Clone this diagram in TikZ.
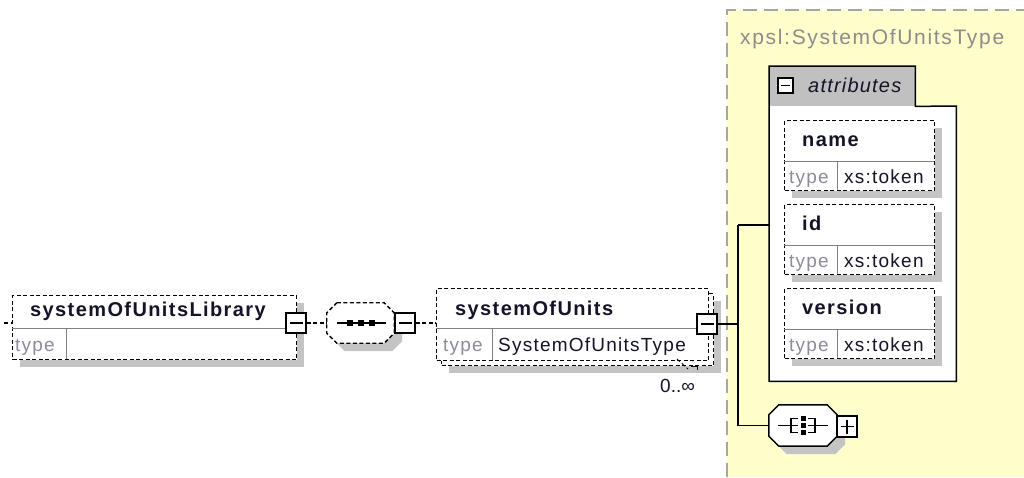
\documentclass[tikz,border=0pt]{standalone}
\usepackage{fontspec}
\setmainfont{Liberation Sans}
\newfontfamily\fname[LetterSpace=7]{Liberation Sans}
\newfontfamily\ftype[LetterSpace=6.5]{Liberation Sans}
\newfontfamily\ftitle[LetterSpace=8]{Liberation Sans}
\newfontfamily\fattr[LetterSpace=6]{Liberation Sans}
\definecolor{yel}{RGB}{255,255,204}
\definecolor{shad}{RGB}{196,196,196}
\definecolor{tabgray}{RGB}{192,192,192}
\definecolor{titlegray}{RGB}{140,140,140}
\definecolor{typegray}{RGB}{140,140,155}
\definecolor{divgray}{RGB}{128,128,128}
\definecolor{ink}{RGB}{20,20,40}
\begin{document}
\begin{tikzpicture}[x=1pt,y=-1pt,
  dsh/.style={dash pattern=on 4pt off 2.5pt},
  ebox/.style={draw, dsh, fill=white, line width=1.3pt, inner sep=0, anchor=north west},
  shadowbox/.style={fill=shad, draw=none, inner sep=0, anchor=north west},
  divider/.style={draw=divgray, line width=1pt},
  mbox/.style={draw, fill=white, line width=1.5pt, minimum size=20pt, inner sep=0,
    path picture={\draw[line width=1.3pt] ([xshift=3.5pt]path picture bounding box.west) -- ([xshift=-3.5pt]path picture bounding box.east);}},
  pbox/.style={draw, fill=white, line width=1.5pt, minimum size=20pt, inner sep=0,
    path picture={\draw[line width=1.3pt] ([xshift=3.5pt]path picture bounding box.west) -- ([xshift=-3.5pt]path picture bounding box.east);
      \draw[line width=1.3pt] ([yshift=-3.5pt]path picture bounding box.north) -- ([yshift=3.5pt]path picture bounding box.south);}},
  nametxt/.style={inner sep=0, anchor=base west, font=\fname\bfseries\fontsize{20}{24}\selectfont, text=ink},
  typetxt/.style={inner sep=0, anchor=base west, font=\ftype\fontsize{19}{23}\selectfont, text=typegray},
  valtxt/.style={inner sep=0, anchor=base west, font=\ftype\fontsize{19}{23}\selectfont, text=ink},
  conn/.style={draw, line width=1.2pt},
  dconn/.style={draw, line width=1.2pt, dsh}
]
\useasboundingbox (0,0) rectangle (1024,477);
\fill[white] (0,0) rectangle (1024,477);

% ---------- yellow type area ----------
\fill[yel] (727,10) rectangle (1024,477);
\draw[draw=gray!70, line width=1.6pt, dash pattern=on 14pt off 7pt] (727,477) -- (727,10) -- (1024,10);
\node[inner sep=0, anchor=base west, font=\ftitle\fontsize{21}{25}\selectfont, text=titlegray] (title) at (740,44) {xpsl:SystemOfUnitsType};

% ---------- systemOfUnitsLibrary ----------
\node[shadowbox, minimum width=284, minimum height=64] (libsh) at (20,303) {};
\node[ebox, minimum width=284, minimum height=64] (lib) at (12,295) {};
\draw[divider] (12,328) -- (296,328);
\draw[divider] (66,328) -- (66,359);
\node[nametxt] (libname) at (30,316) {systemOfUnitsLibrary};
\node[typetxt] (libtype) at (15,351) {type};
\coordinate (lstub) at (4,323);
\draw[dconn] (lstub) -- (12,323);
\node[mbox] (m1) at (296,323) {};

% ---------- sequence ----------
\node[inner sep=0, minimum width=67, minimum height=40] (seq) at (360.5,323) {};
\fill[shad] ([shift={(18,8)}]seq.north west) -- ([shift={(-2,8)}]seq.north east) -- ([shift={(8,18)}]seq.north east)
  -- ([shift={(8,-2)}]seq.south east) -- ([shift={(-2,8)}]seq.south east) -- ([shift={(18,8)}]seq.south west)
  -- ([shift={(8,-2)}]seq.south west) -- ([shift={(8,18)}]seq.north west) -- cycle;
\filldraw[fill=white, line width=1.3pt, dsh] ([shift={(10,0)}]seq.north west) -- ([shift={(-10,0)}]seq.north east) -- ([shift={(0,10)}]seq.north east)
  -- ([shift={(0,-10)}]seq.south east) -- ([shift={(-10,0)}]seq.south east) -- ([shift={(10,0)}]seq.south west)
  -- ([shift={(0,-10)}]seq.south west) -- ([shift={(0,10)}]seq.north west) -- cycle;
\draw[line width=1.3pt] ([xshift=10]seq.west) -- ([xshift=-8]seq.east);
\foreach \dx in {-11,0,11} \fill ([xshift=\dx]seq.center) ++(-3,-3) rectangle ++(6,6);
\node[mbox] (m2) at (405,323) {};

\draw[dconn] (m1.east) -- (seq.west);
\draw[dconn] (seq.east) -- (m2.west);

% ---------- systemOfUnits ----------
\node[shadowbox, minimum width=272, minimum height=72] (soush) at (449,301) {};
\node[ebox, minimum width=272, minimum height=72] (souback) at (441,293) {};
\node[ebox, minimum width=272, minimum height=72] (sou) at (436,288) {};
\draw[divider] (436,328) -- (708,328);
\draw[divider] (492,328) -- (492,360);
\node[nametxt] (souname) at (455,315) {systemOfUnits};
\node[typetxt] (soutype) at (443,351) {type};
\node[valtxt] (souval) at (498,351) {SystemOfUnitsType};
\node[mbox] (m3) at (707,324) {};
\draw[line width=0.8pt, dsh] (677,359) -- (688,369);
\draw[line width=0.8pt] (691,366) -- (697,366) -- (697,370);
\node[inner sep=0, anchor=base west, font=\fontsize{19}{23}\selectfont, text=ink] (occ) at (660,392) {0..\char"221E};

\draw[dconn] (m2.east) -- (sou.west |- m2.east);

% ---------- attributes ----------
\node[inner sep=0, minimum width=187, minimum height=275, anchor=north west] (attrbody) at (769,106) {};
\node[inner sep=0, minimum width=146, minimum height=40, anchor=north west] (tab) at (769,66) {};
\fill[tabgray] (tab.south west) rectangle (tab.north east);
\fill[white] (attrbody.south west) rectangle (attrbody.north east);
\draw[line width=1.5pt] (tab.south west) -- (tab.north west) -- (tab.north east) -- (tab.south east)
  -- (attrbody.north east) -- (attrbody.south east) -- (attrbody.south west) -- cycle;
\node[draw, fill=white, line width=1.3pt, minimum size=15pt, inner sep=0,
  path picture={\draw[line width=1.3pt] ([xshift=3pt]path picture bounding box.west) -- ([xshift=-3pt]path picture bounding box.east);}]
  (tabminus) at (785.5,85.5) {};
\node[inner sep=0, anchor=base west, font=\fattr\itshape\fontsize{20}{24}\selectfont, text=ink] (attrlbl) at (808,92) {attributes};

\foreach \nm/\lbl/\y in {aname/name/120, aid/id/204, aver/version/288} {
  \node[shadowbox, minimum width=150, minimum height=70] (\nm sh) at (792,\y+8) {};
  \node[ebox, minimum width=150, minimum height=70] (\nm) at (784,\y) {};
  \draw[divider] (784,\y+41) -- (934,\y+41);
  \draw[divider] (837,\y+41) -- (837,\y+70);
  \node[nametxt] (\nm txt) at (802,\y+26) {\lbl};
  \node[typetxt] (\nm type) at (789,\y+63) {type};
  \node[valtxt] (\nm val) at (844,\y+63) {xs:token};
}

% ---------- choice ----------
\node[inner sep=0, minimum width=68, minimum height=41] (choice) at (803,425.5) {};
\fill[shad] ([shift={(18,8)}]choice.north west) -- ([shift={(-2,8)}]choice.north east) -- ([shift={(8,18)}]choice.north east)
  -- ([shift={(8,-2)}]choice.south east) -- ([shift={(-2,8)}]choice.south east) -- ([shift={(18,8)}]choice.south west)
  -- ([shift={(8,-2)}]choice.south west) -- ([shift={(8,18)}]choice.north west) -- cycle;
\filldraw[fill=white, line width=1.5pt] ([shift={(10,0)}]choice.north west) -- ([shift={(-10,0)}]choice.north east) -- ([shift={(0,10)}]choice.north east)
  -- ([shift={(0,-10)}]choice.south east) -- ([shift={(-10,0)}]choice.south east) -- ([shift={(10,0)}]choice.south west)
  -- ([shift={(0,-10)}]choice.south west) -- ([shift={(0,10)}]choice.north west) -- cycle;
\begin{scope}[shift={(choice.center)}, line width=1.3pt]
  \draw (-25,0) -- (-12,0);
  \draw (-5,-7) -- (-12,-7) -- (-12,7) -- (-5,7);
  \draw (-12,0) -- (-5,0);
  \draw (5,-7) -- (12,-7) -- (12,7) -- (5,7);
  \draw (5,0) -- (12,0);
  \draw (12,0) -- (25,0);
  \foreach \dy in {-7,0,7} \fill (-2.5,\dy-2.5) rectangle (2.5,\dy+2.5);
\end{scope}
\node[pbox, minimum width=20, minimum height=21] (cplus) at (847,426.5) {};

% ---------- tree connectors ----------
\coordinate (j) at (738,324);
\coordinate (ja) at (738,225);
\coordinate (jc) at (738,425.5);
\draw[conn] (m3.east) -- (j);
\draw[conn] (ja) -- (jc);
\draw[conn] (ja) -- (ja -| attrbody.west);
\draw[conn] (jc) -- (choice.west);
\end{tikzpicture}
\end{document}
